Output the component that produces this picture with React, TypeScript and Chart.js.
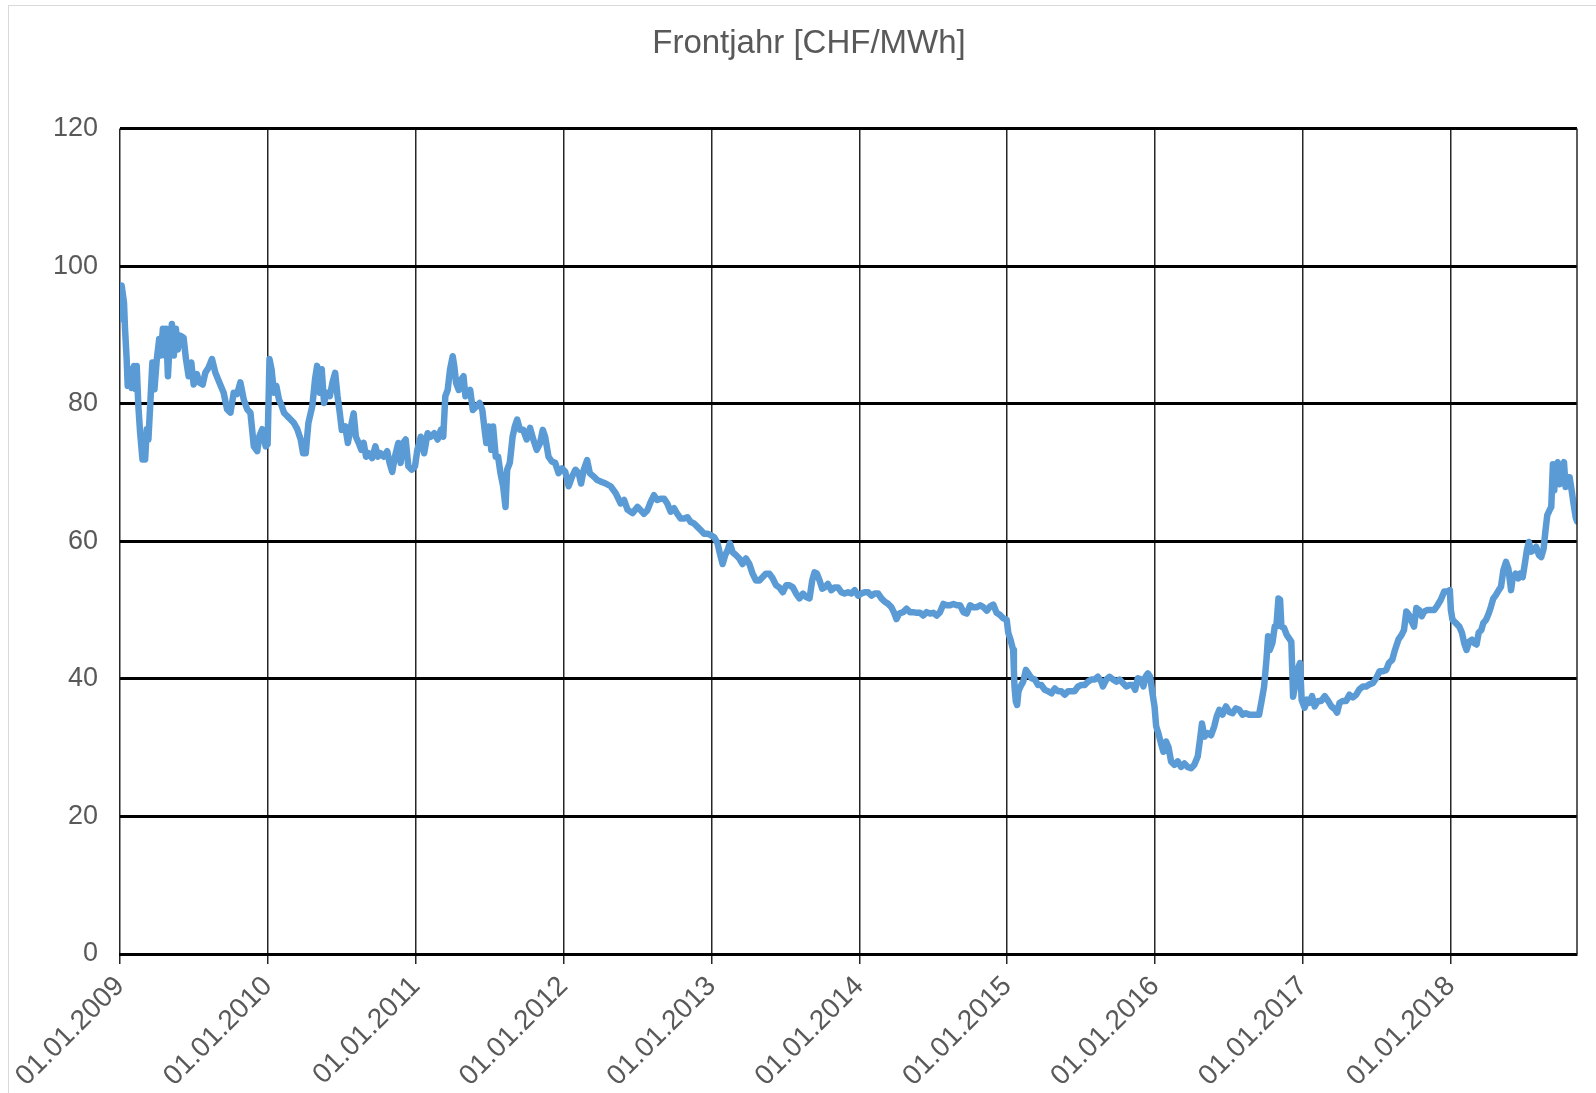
import React, { useEffect, useRef } from "react";
import { Chart, registerables } from "chart.js";

Chart.register(...registerables);

const chartTitle = "Frontjahr [CHF/MWh]";
const startYear = 2009;
const endOffset = 9.853; // last trading day, in years after 01.01.2009
const yearTicks = [2009, 2010, 2011, 2012, 2013, 2014, 2015, 2016, 2017, 2018];
const yMin = 0;
const yMax = 120;
const yStep = 20;

// time offsets in years after 01.01.2009
const times = [
  0.000, 0.011, 0.027, 0.034, 0.045, 0.052, 0.068, 0.079, 0.095, 0.106, 0.113, 0.124, 0.136, 0.152, 0.170, 0.181,
  0.192, 0.204, 0.219, 0.233, 0.249, 0.265, 0.276, 0.290, 0.305, 0.312, 0.324, 0.335, 0.351, 0.364, 0.378, 0.391,
  0.407, 0.430, 0.446, 0.464, 0.482, 0.498, 0.520, 0.536, 0.559, 0.577, 0.600, 0.622, 0.645, 0.672, 0.701, 0.724,
  0.747, 0.769, 0.792, 0.814, 0.837, 0.860, 0.882, 0.905, 0.928, 0.943, 0.962, 0.985, 0.998, 1.011, 1.025, 1.041,
  1.057, 1.075, 1.093, 1.109, 1.131, 1.154, 1.176, 1.199, 1.222, 1.238, 1.256, 1.274, 1.301, 1.319, 1.333, 1.351,
  1.364, 1.380, 1.396, 1.419, 1.437, 1.455, 1.471, 1.486,
  1.500, 1.523, 1.541, 1.557, 1.580, 1.595, 1.614, 1.632, 1.648, 1.664, 1.682, 1.705, 1.727, 1.745, 1.761, 1.784,
  1.807, 1.823, 1.841, 1.859, 1.882, 1.898, 1.914, 1.932, 1.950, 1.973, 1.995, 2.011, 2.034, 2.057, 2.080, 2.102,
  2.125, 2.148, 2.170, 2.186, 2.200, 2.216, 2.232, 2.250, 2.261, 2.273, 2.291, 2.307, 2.323, 2.336, 2.352, 2.368,
  2.386, 2.409, 2.432, 2.450, 2.466, 2.477, 2.495, 2.511, 2.523, 2.541, 2.557, 2.573, 2.591, 2.607, 2.618, 2.636,
  2.655, 2.670, 2.686, 2.705, 2.727, 2.750, 2.773, 2.795, 2.818, 2.841, 2.859, 2.875, 2.898, 2.920, 2.943, 2.966,
  2.989, 3.011, 3.034, 3.057, 3.080, 3.102, 3.118, 3.136, 3.159, 3.177, 3.205, 3.227, 3.250, 3.284, 3.318, 3.352,
  3.386, 3.409, 3.432, 3.466, 3.500,
  3.543, 3.566, 3.588, 3.611, 3.633, 3.656, 3.679, 3.701, 3.724, 3.747, 3.769, 3.792, 3.814, 3.837, 3.860, 3.882,
  3.905, 3.928, 3.950, 3.973, 3.995, 4.018, 4.041, 4.057, 4.075, 4.093, 4.109, 4.124, 4.143, 4.165, 4.188, 4.210,
  4.233, 4.256, 4.278, 4.301, 4.324, 4.346, 4.369, 4.391, 4.414, 4.437, 4.459, 4.482, 4.505, 4.527, 4.550, 4.572,
  4.595, 4.618, 4.640, 4.663, 4.681, 4.697, 4.713, 4.731, 4.749, 4.765, 4.787, 4.810, 4.833, 4.855, 4.878, 4.900,
  4.923, 4.946, 4.968, 4.991, 5.014, 5.036, 5.059, 5.081, 5.104, 5.127, 5.149, 5.172, 5.195, 5.217, 5.233, 5.251,
  5.269, 5.296, 5.319, 5.342, 5.364, 5.387, 5.410, 5.432, 5.455, 5.478, 5.500, 5.523, 5.545, 5.568, 5.591, 5.613,
  5.636, 5.659, 5.681, 5.704, 5.726, 5.749, 5.771, 5.794, 5.817, 5.839, 5.862,
  5.883, 5.906, 5.928, 5.951, 5.973, 5.996, 6.007, 6.022, 6.040, 6.045, 6.049, 6.058, 6.067, 6.076, 6.090, 6.108,
  6.126, 6.142, 6.164, 6.187, 6.209, 6.231, 6.254, 6.276, 6.299, 6.321, 6.344, 6.366, 6.389, 6.411, 6.434, 6.456,
  6.479, 6.501, 6.524, 6.546, 6.569, 6.591, 6.613, 6.636, 6.647, 6.670, 6.692, 6.715, 6.737, 6.760, 6.782, 6.805,
  6.827, 6.849, 6.865, 6.883, 6.906, 6.921, 6.935, 6.951, 6.966, 6.980, 6.996, 7.007, 7.022, 7.040, 7.056, 7.074,
  7.090, 7.108, 7.130, 7.153, 7.175, 7.198, 7.220, 7.243, 7.265, 7.288, 7.303, 7.317, 7.333, 7.355, 7.378, 7.400,
  7.416, 7.434, 7.456, 7.479, 7.501, 7.524, 7.546, 7.569, 7.591, 7.613, 7.636, 7.658, 7.681, 7.703, 7.721, 7.737,
  7.753, 7.764, 7.775, 7.793, 7.809, 7.820, 7.834, 7.845, 7.854, 7.872, 7.890, 7.906, 7.921, 7.933, 7.946, 7.962,
  7.980, 7.991,
  8.011, 8.027, 8.043, 8.061, 8.079, 8.102, 8.124, 8.147, 8.170, 8.192, 8.215, 8.231, 8.247, 8.269, 8.292, 8.314,
  8.337, 8.360, 8.382, 8.405, 8.428, 8.450, 8.473, 8.495, 8.518, 8.541, 8.563, 8.581, 8.604, 8.622, 8.645, 8.667,
  8.683, 8.699, 8.717, 8.735, 8.751, 8.767, 8.785, 8.803, 8.819, 8.842, 8.864, 8.887, 8.910, 8.932, 8.955, 8.977,
  8.993, 9.000, 9.011, 9.034, 9.057, 9.075, 9.090, 9.106, 9.124, 9.143, 9.158, 9.174, 9.188, 9.206, 9.219, 9.238,
  9.256, 9.271, 9.287, 9.305, 9.324, 9.339, 9.355, 9.373, 9.389, 9.407, 9.419, 9.437, 9.455, 9.468, 9.486, 9.502,
  9.514, 9.527, 9.543, 9.559, 9.577, 9.595, 9.611, 9.627, 9.640, 9.652, 9.667, 9.679, 9.690, 9.699, 9.708, 9.722,
  9.735, 9.751, 9.765, 9.776, 9.790, 9.803, 9.817, 9.830, 9.844, 9.853,
];

// Frontjahr prices in CHF/MWh
const prices = [
  92.3, 97.2, 94.7, 90.9, 86.5, 82.6, 85.0, 82.3, 85.5, 82.1, 85.5, 79.7, 75.8, 71.9, 71.9, 76.3,
  74.8, 79.7, 86.0, 82.1, 86.5, 89.4, 87.0, 90.9, 87.0, 90.9, 84.0, 88.4, 91.6, 87.0, 90.9, 87.9,
  89.9, 89.6, 86.5, 84.0, 86.0, 82.8, 84.3, 83.1, 82.8, 84.5, 85.3, 86.5, 84.5, 83.1, 81.6, 79.2,
  78.7, 81.6, 81.4, 83.1, 80.6, 79.2, 78.7, 73.8, 73.1, 75.3, 76.3, 73.8, 74.1, 86.5, 85.0, 81.6,
  82.6, 80.6, 79.7, 78.7, 78.2, 77.7, 77.2, 76.3, 74.8, 72.8, 72.8, 77.2, 79.7, 83.6, 85.5, 81.6,
  85.0, 80.1, 81.6, 81.1, 83.1, 84.5, 81.1, 78.7,
  76.2, 76.7, 74.3, 76.2, 78.6, 75.2, 74.3, 73.3, 74.3, 72.3, 72.8, 72.1, 73.8, 72.3, 72.8, 72.3,
  73.1, 71.4, 70.1, 72.3, 74.3, 71.4, 74.3, 74.8, 70.9, 70.4, 70.9, 73.3, 75.2, 72.8, 75.7, 75.2,
  75.7, 74.8, 76.2, 75.2, 81.1, 82.0, 85.0, 86.9, 85.4, 83.0, 82.0, 83.5, 84.0, 81.1, 81.6, 82.0,
  79.1, 79.6, 80.1, 79.1, 76.2, 74.3, 76.7, 73.3, 76.7, 72.3, 72.3, 69.9, 68.0, 65.0, 70.4, 71.4,
  75.2, 76.7, 77.7, 76.2, 76.2, 74.8, 76.5, 74.8, 73.3, 74.3, 76.2, 75.2, 72.3, 71.6, 71.4, 69.9,
  70.6, 70.1, 68.0, 69.4, 70.4, 69.9, 68.4, 70.4, 71.8, 69.9, 69.4, 68.9, 68.7, 68.4, 68.0, 67.0,
  65.5, 66.0, 64.6, 64.1, 65.0,
  64.0, 64.5, 65.7, 66.7, 66.0, 66.2, 66.2, 65.5, 64.3, 64.8, 64.0, 63.3, 63.3, 63.5, 62.8, 62.6,
  62.1, 61.6, 61.1, 61.1, 60.9, 60.6, 59.7, 58.2, 56.7, 58.0, 58.7, 59.7, 58.4, 58.0, 57.5, 56.7,
  57.5, 56.7, 55.3, 54.3, 54.3, 54.8, 55.3, 55.3, 54.6, 53.6, 53.3, 52.6, 53.6, 53.6, 53.3, 52.4,
  51.7, 52.4, 51.9, 51.7, 54.3, 55.5, 55.3, 54.3, 53.1, 53.3, 53.8, 52.9, 53.3, 53.3, 52.6, 52.4,
  52.6, 52.4, 52.9, 52.1, 52.4, 52.6, 52.6, 52.1, 52.4, 52.4, 51.7, 51.2, 50.9, 50.4, 49.7, 48.7,
  49.5, 49.7, 50.2, 49.7, 49.7, 49.6, 49.6, 49.2, 49.7, 49.5, 49.6, 49.2, 49.7, 50.9, 50.7, 50.7,
  50.9, 50.7, 50.7, 49.7, 49.5, 50.7, 50.4, 50.4, 50.7, 50.4, 49.9,
  50.5, 50.8, 49.6, 49.3, 48.8, 48.6, 46.7, 45.7, 44.2, 41.3, 38.9, 36.7, 36.2, 38.2, 38.9, 39.6,
  41.3, 40.8, 40.1, 39.9, 39.1, 39.1, 38.4, 38.2, 37.9, 38.6, 38.2, 38.2, 37.7, 38.2, 38.2, 38.2,
  38.9, 39.1, 39.1, 39.6, 39.9, 39.9, 40.3, 39.6, 38.9, 39.9, 40.3, 39.9, 39.6, 39.9, 39.4, 38.9,
  39.1, 39.1, 38.4, 40.1, 39.9, 38.9, 40.3, 40.8, 40.3, 38.2, 36.0, 33.1, 32.1, 30.6, 29.4, 30.9,
  30.1, 28.0, 27.5, 28.0, 27.2, 27.7, 27.2, 27.0, 27.5, 28.7, 31.1, 33.5, 31.6, 32.1, 31.8, 33.1,
  34.5, 35.5, 34.8, 36.0, 35.2, 35.0, 35.7, 35.5, 34.8, 35.0, 34.8, 34.8, 34.8, 34.8, 36.9, 38.9,
  42.8, 46.2, 44.2, 45.2, 47.6, 47.6, 51.7, 51.5, 47.6, 47.4, 46.4, 45.9, 45.4, 37.4, 38.9, 41.3,
  42.3, 36.9,
  35.8, 37.0, 36.5, 37.5, 36.0, 36.8, 36.8, 37.5, 36.8, 36.0, 35.6, 35.1, 36.5, 36.8, 36.8, 37.7,
  37.3, 37.7, 38.5, 38.9, 38.9, 39.2, 39.4, 40.1, 41.1, 41.1, 41.3, 42.3, 42.8, 44.2, 45.7, 46.4,
  47.1, 49.8, 49.3, 48.3, 47.6, 50.3, 50.0, 49.1, 49.8, 50.0, 50.0, 50.0, 50.7, 51.5, 52.7, 52.7,
  52.9, 50.0, 48.6, 48.1, 47.6, 46.7, 45.2, 44.2, 45.4, 45.7, 45.2, 45.0, 46.7, 47.1, 48.1, 48.6,
  49.5, 50.5, 51.7, 52.2, 52.9, 53.4, 55.8, 57.0, 56.0, 52.9, 54.8, 55.3, 54.6, 55.3, 54.8, 57.0,
  58.7, 59.9, 58.5, 58.7, 59.2, 58.0, 57.7, 58.9, 61.6, 63.8, 64.5, 65.0, 71.2, 67.4, 70.3, 71.5,
  68.3, 70.7, 71.5, 67.9, 69.3, 69.3, 67.4, 65.4, 63.5, 62.9,
];

const FONT = "'Liberation Sans', Arial, sans-serif";
const TEXT_GRAY = "#595959";
const LINE_BLUE = "#5B9BD5";

const rightBorderPlugin = {
  id: "rightBorder",
  afterDraw(chart: any) {
    const { ctx, chartArea } = chart;
    ctx.save();
    ctx.strokeStyle = "#262626";
    ctx.lineWidth = 1.5;
    ctx.beginPath();
    ctx.moveTo(chartArea.right, chartArea.top);
    ctx.lineTo(chartArea.right, chartArea.bottom);
    ctx.stroke();
    ctx.restore();
  },
};

export default function App() {
  const canvasRef = useRef<HTMLCanvasElement>(null);

  useEffect(() => {
    if (!canvasRef.current) return;
    const points = times.map((t, i) => ({ x: startYear + t, y: prices[i] }));
    const chart = new Chart(canvasRef.current, {
      type: "line",
      data: {
        datasets: [
          {
            data: points,
            borderColor: LINE_BLUE,
            backgroundColor: LINE_BLUE,
            borderWidth: 6.5,
            pointRadius: 0,
            tension: 0,
            fill: false,
            borderJoinStyle: "round",
            borderCapStyle: "round",
          },
        ],
      },
      options: {
        animation: false,
        responsive: false,
        maintainAspectRatio: false,
        layout: { padding: { left: 41, right: 19, top: 0, bottom: 0 } },
        plugins: {
          legend: { display: false },
          tooltip: { enabled: false },
          title: {
            display: true,
            text: chartTitle,
            color: TEXT_GRAY,
            font: { family: FONT, size: 33, weight: "normal" },
            padding: { top: 24, bottom: 65 },
          },
        },
        scales: {
          x: {
            type: "linear",
            min: startYear,
            max: startYear + endOffset,
            afterBuildTicks: (scale: any) => {
              scale.ticks = yearTicks.map((v) => ({ value: v }));
            },
            afterFit: (scale: any) => {
              scale.height = 139;
            },
            ticks: {
              autoSkip: false,
              minRotation: 45,
              maxRotation: 45,
              color: TEXT_GRAY,
              font: { family: FONT, size: 28 },
              padding: 6,
              callback: (v: any) => `01.01.${v}`,
            },
            grid: {
              color: "#262626",
              lineWidth: 1.5,
              tickLength: 10,
              drawTicks: true,
            },
            border: { display: true, color: "#000000", width: 3 },
          },
          y: {
            min: yMin,
            max: yMax,
            afterFit: (scale: any) => {
              scale.width = 79;
            },
            ticks: {
              stepSize: yStep,
              color: TEXT_GRAY,
              font: { family: FONT, size: 27 },
              padding: 22,
            },
            grid: { color: "#000000", lineWidth: 3, drawTicks: false },
            border: { display: false },
          },
        },
      },
      plugins: [rightBorderPlugin],
    });
    return () => chart.destroy();
  }, []);

  return (
    <div
      style={{
        position: "fixed",
        left: 0,
        top: 0,
        width: 1596,
        height: 1093,
        background: "#ffffff",
        overflow: "hidden",
      }}
    >
      <div
        style={{
          position: "absolute",
          left: 8,
          top: 5,
          width: 1620,
          height: 1120,
          borderLeft: "1px solid #d9d9d9",
          borderTop: "1px solid #d9d9d9",
        }}
      />
      <canvas
        ref={canvasRef}
        width={1596}
        height={1093}
        style={{ position: "absolute", left: 0, top: 0 }}
      />
    </div>
  );
}
